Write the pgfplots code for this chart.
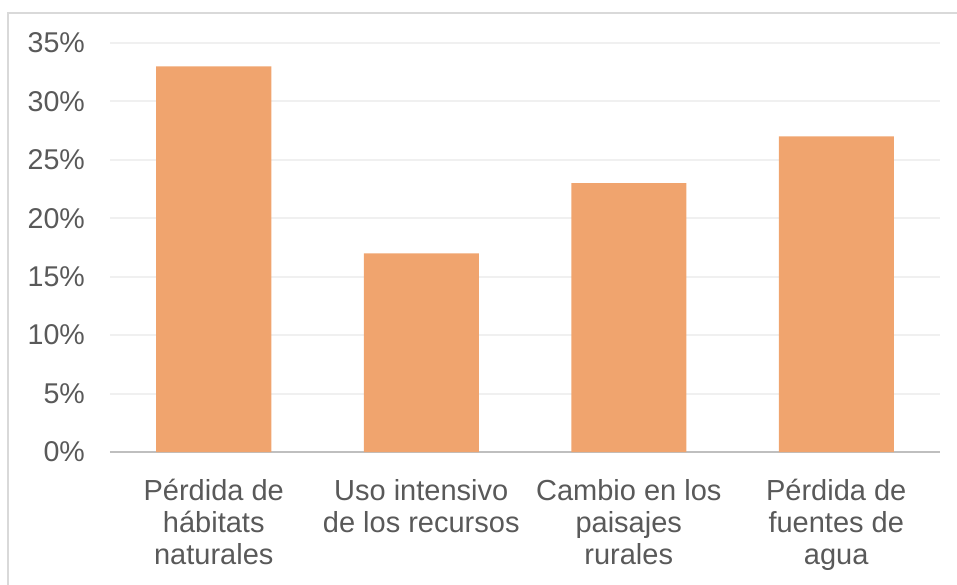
\documentclass[border=0pt]{standalone}
\usepackage{fontspec}
\setmainfont{Liberation Sans}
\usepackage{pgfplots}
\pgfplotsset{compat=1.18}
\definecolor{barorange}{RGB}{240,164,110}
\definecolor{gridgray}{RGB}{240,240,240}
\definecolor{axisgray}{RGB}{191,191,191}
\definecolor{textgray}{RGB}{89,89,89}
\definecolor{framegray}{RGB}{217,217,217}

\begin{document}
\begin{tikzpicture}
\begin{axis}[
    scale only axis,
    width=415pt, height=204.5pt,
    xmin=-0.5, xmax=3.5,
    ymin=0, ymax=35,
    ybar, bar width=57.5pt,
    axis x line=bottom, axis y line=left,
    x axis line style={-, draw=axisgray, line width=1pt},
    y axis line style={draw=none},
    major tick length=0pt,
    tick style={draw=none},
    ymajorgrids,
    grid style={gridgray, line width=1pt},
    ytick={0,5,...,35},
    yticklabels={0\%,5\%,10\%,15\%,20\%,25\%,30\%,35\%},
    yticklabel style={font=\fontsize{14.3}{16}\selectfont, text=textgray, anchor=east, xshift=-9pt},
    xtick={0,1,2,3},
    xticklabels={{Pérdida de\\hábitats\\naturales},{Uso intensivo\\de los recursos},{Cambio en los\\paisajes\\rurales},{Pérdida de\\fuentes de\\agua}},
    xticklabel style={font=\fontsize{14.5}{16}\selectfont, text=textgray, align=center, yshift=-10pt},
]
\addplot[fill=barorange, draw=none] coordinates {(0,33) (1,17) (2,23) (3,27)};
\end{axis}
\draw[framegray, line width=1pt] (-51pt,-70pt) -- (-51pt,219.5pt) -- (430pt,219.5pt);
\pgfresetboundingbox
\path[use as bounding box] (-55pt,-66pt) rectangle (423.5pt,226pt);
\end{tikzpicture}
\end{document}
